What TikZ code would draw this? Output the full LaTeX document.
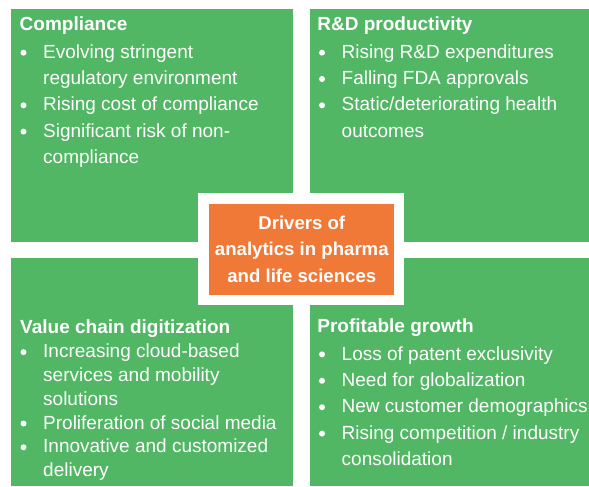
\documentclass[tikz,border=0pt]{standalone}
\usepackage{fontspec}
\setmainfont{Liberation Sans}
\definecolor{panelgreen}{RGB}{82,183,100}
\definecolor{hubOrange}{RGB}{241,121,56}
\tikzset{
  panel/.style={fill=panelgreen},
  head/.style={anchor=base west, inner sep=0pt, text=white,
    font=\bfseries\fontsize{19}{23}\selectfont},
  item/.style={anchor=base west, inner sep=0pt, text=white,
    font=\fontsize{19}{23}\selectfont},
  hubtext/.style={anchor=base, inner sep=0pt, text=white,
    font=\bfseries\fontsize{18.6}{23}\selectfont},
  dot/.style={fill=white},
}
\newcommand{\bulletat}[1]{\fill[dot] ([xshift=-19.5pt,yshift=5.6pt]#1.base west) circle (3pt);}
\begin{document}
\begin{tikzpicture}[x=1pt,y=-1pt]
\useasboundingbox (0,0) rectangle (589,487);

% four quadrants
\fill[panel] (11,9) rectangle (293,241.5);
\fill[panel] (310,9) rectangle (589,241.5);
\fill[panel] (11,258) rectangle (293,486);
\fill[panel] (310,258) rectangle (589,486);

% central hub: white frame and orange box
\fill[white] (198.3,193.3) rectangle (404.3,305.3);
\fill[hubOrange] (209.3,204.3) rectangle (394.3,295.3);
\node[hubtext] (hub1) at (301.8,229) {Drivers of};
\node[hubtext] (hub2) at (301.8,255.5) {analytics in pharma};
\node[hubtext] (hub3) at (301.8,282) {and life sciences};

% Compliance
\node[head] (cT) at (19.5,31) {Compliance};
\node[item] (c1) at (43,58.3) {Evolving stringent};
\node[item] (c2) at (43,84.6) {regulatory environment};
\node[item] (c3) at (43,110.9) {Rising cost of compliance};
\node[item] (c4) at (43,137.2) {Significant risk of non-};
\node[item] (c5) at (43,163.5) {compliance};
\bulletat{c1}\bulletat{c3}\bulletat{c4}

% R&D productivity
\node[head] (rT) at (317.2,31) {R\&D productivity};
\node[item] (r1) at (341.5,58.3) {Rising R\&D expenditures};
\node[item] (r2) at (341.5,84.6) {Falling FDA approvals};
\node[item] (r3) at (341.5,110.9) {Static/deteriorating health};
\node[item] (r4) at (341.5,137.2) {outcomes};
\bulletat{r1}\bulletat{r2}\bulletat{r3}

% Value chain digitization
\node[head] (vT) at (20,333.3) {Value chain digitization};
\node[item] (v1) at (43,357.7) {Increasing cloud-based};
\node[item] (v2) at (43,381.5) {services and mobility};
\node[item] (v3) at (43,405.3) {solutions};
\node[item] (v4) at (43,429.1) {Proliferation of social media};
\node[item] (v5) at (43,452.9) {Innovative and customized};
\node[item] (v6) at (43,476.7) {delivery};
\bulletat{v1}\bulletat{v4}\bulletat{v5}

% Profitable growth
\node[head] (pT) at (317.2,332.5) {Profitable growth};
\node[item] (p1) at (341.5,360) {Loss of patent exclusivity};
\node[item] (p2) at (341.5,386.4) {Need for globalization};
\node[item] (p3) at (341.5,412.8) {New customer demographics};
\node[item] (p4) at (341.5,439.2) {Rising competition / industry};
\node[item] (p5) at (341.5,465.6) {consolidation};
\bulletat{p1}\bulletat{p2}\bulletat{p3}\bulletat{p4}
\end{tikzpicture}
\end{document}
